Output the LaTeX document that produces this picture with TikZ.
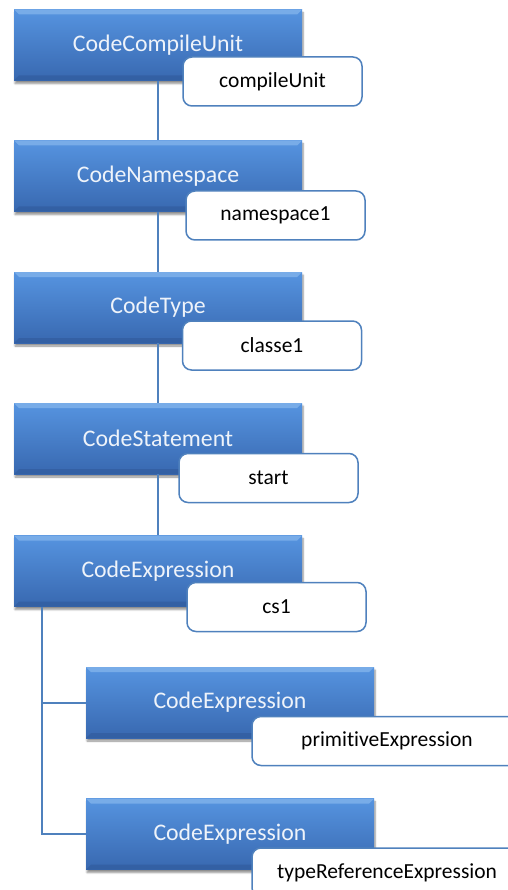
\documentclass[tikz,border=0pt]{standalone}
\usepackage{fontspec}
\setmainfont{Carlito}[Ligatures=NoCommon]
\usetikzlibrary{shadows.blur,calc}
\definecolor{boxtop}{RGB}{86,148,224}
\definecolor{boxbot}{RGB}{56,104,176}
\definecolor{bevtop}{RGB}{120,172,232}
\definecolor{bevbot}{RGB}{48,90,155}
\definecolor{linec}{RGB}{79,129,189}
\definecolor{boxtext}{RGB}{238,243,250}
\tikzset{
  bluebox/.style={rectangle, minimum width=288pt, minimum height=71pt, inner sep=0pt,
    top color=boxtop, bottom color=boxbot, text=boxtext,
    font=\fontsize{23.8}{27}\selectfont,
    blur shadow={shadow xshift=1pt, shadow yshift=-3pt, shadow blur steps=6, shadow opacity=45},
    path picture={
      \fill[bevtop] (path picture bounding box.north west) -- (path picture bounding box.north east)
        -- ($(path picture bounding box.north east)+(-5,5)$) -- ($(path picture bounding box.north west)+(5,5)$) -- cycle;
      \fill[bevbot, opacity=0.6] (path picture bounding box.south west) -- (path picture bounding box.south east)
        -- ($(path picture bounding box.south east)+(-5,-5)$) -- ($(path picture bounding box.south west)+(5,-5)$) -- cycle;
    }},
  tagbox/.style={rectangle, draw=linec, line width=1.5pt, fill=white, rounded corners=9pt,
    minimum width=179pt, minimum height=49pt, inner sep=0pt,
    font=\fontsize{21.5}{25}\selectfont, text=black},
  conn/.style={draw=linec, line width=2pt}
}
\begin{document}
\begin{tikzpicture}[x=1pt,y=-1pt]
\useasboundingbox (0,0) rectangle (507,890);
% blue boxes
\node[bluebox] (b1) at (158,45) {CodeCompileUnit};
\node[bluebox] (b2) at (158,176) {CodeNamespace};
\node[bluebox] (b3) at (158,307.5) {CodeType};
\node[bluebox] (b4) at (158,438.5) {CodeStatement};
\node[bluebox] (b5) at (158,571) {CodeExpression};
\node[bluebox] (b6) at (230,702.5) {CodeExpression};
\node[bluebox] (b7) at (230,834) {CodeExpression};
% connectors
\coordinate (t) at ($(b5.south west)+(28,0)$);
\draw[conn] (b1.south) -- (b2.north);
\draw[conn] (b2.south) -- (b3.north);
\draw[conn] (b3.south) -- (b4.north);
\draw[conn] (b4.south) -- (b5.north);
\draw[conn] (t) |- (b7.west);
\draw[conn] (b6.west) -| (t);
% tags
\node[tagbox] (l1) at (272.5,81.5) {compileUnit};
\node[tagbox] (l2) at (275.5,215.5) {namespace1};
\node[tagbox] (l3) at (272,345.5) {classe1};
\node[tagbox] (l4) at (268.5,478) {start};
\node[tagbox] (l5) at (276.5,607) {cs1};
\node[tagbox, minimum width=270pt] (l6) at (387,741) {primitiveExpression};
\node[tagbox, minimum width=270pt] (l7) at (387,872.5) {typeReferenceExpression};
\end{tikzpicture}
\end{document}
